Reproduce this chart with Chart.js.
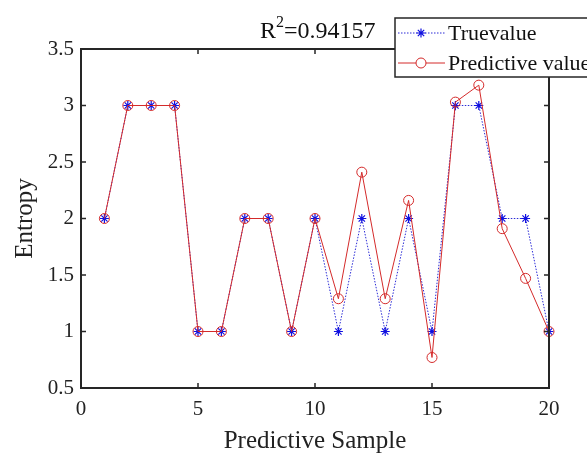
<!DOCTYPE html>
<html><head><meta charset="utf-8">
<script src="https://cdn.jsdelivr.net/npm/chart.js@4/dist/chart.umd.min.js"></script>
<style>html,body{margin:0;padding:0;background:#fff}#wrap{width:587px;height:456px}</style>
</head><body><div id="wrap"><canvas id="c" width="587" height="456"></canvas></div>
<script>
const samples = [1,2,3,4,5,6,7,8,9,10,11,12,13,14,15,16,17,18,19,20];
const trueValues = [2,3,3,3,1,1,2,2,1,2,1,2,1,2,1,3,3,2,2,1];
const predictedValues = [2,3,3,3,1,1,2,2,1,2,1.29,2.41,1.29,2.16,0.77,3.03,3.18,1.91,1.47,1.0];
const xTicks = [0,5,10,15,20];
const yTicks = [0.5,1,1.5,2,2.5,3,3.5];
const titleText = ["R", "2", "=0.94157"];
const seriesNames = ["Truevalue", "Predictive value"];

const FONT = "'Liberation Serif', 'DejaVu Serif', serif";
const toPts = (xs, ys) => xs.map((x, i) => ({x: x, y: ys[i]}));

const boxPlugin = {
  id: 'box',
  afterDraw(chart) {
    const ctx = chart.ctx, a = chart.chartArea;
    const xs = chart.scales.x, ys = chart.scales.y;
    ctx.save();
    ctx.strokeStyle = '#262626';
    ctx.lineWidth = 2;
    ctx.strokeRect(a.left, a.top, a.right - a.left, a.bottom - a.top);
    ctx.lineWidth = 1.5;
    const tl = 5;
    ctx.beginPath();
    xTicks.forEach(v => {
      const p = xs.getPixelForValue(v);
      ctx.moveTo(p, a.bottom); ctx.lineTo(p, a.bottom - tl);
      ctx.moveTo(p, a.top); ctx.lineTo(p, a.top + tl);
    });
    yTicks.forEach(v => {
      const p = ys.getPixelForValue(v);
      ctx.moveTo(a.left, p); ctx.lineTo(a.left + tl, p);
      ctx.moveTo(a.right, p); ctx.lineTo(a.right - tl, p);
    });
    ctx.stroke();

    // title
    ctx.fillStyle = '#111';
    ctx.textBaseline = 'alphabetic';
    const big = "24px " + FONT, small = "16px " + FONT;
    ctx.font = big;
    const w1 = ctx.measureText(titleText[0]).width;
    ctx.font = small;
    const w2 = ctx.measureText(titleText[1]).width;
    ctx.font = big;
    const w3 = ctx.measureText(titleText[2]).width;
    let tx = 260;
    const ty = 38;
    ctx.fillText(titleText[0], tx, ty);
    ctx.font = small;
    ctx.fillText(titleText[1], tx + w1, ty - 11);
    ctx.font = big;
    ctx.fillText(titleText[2], tx + w1 + w2, ty);

    // legend
    const lx = 395, ly = 18, lw = 200, lh = 59;
    ctx.fillStyle = '#fff';
    ctx.fillRect(lx, ly, lw, lh);
    ctx.strokeStyle = '#262626';
    ctx.lineWidth = 1.5;
    ctx.strokeRect(lx, ly, lw, lh);
    chart.data.datasets.forEach((ds, i) => {
      const yy = ly + 15 + i * 30;
      ctx.save();
      ctx.strokeStyle = ds.borderColor;
      ctx.lineWidth = 1;
      ctx.setLineDash(ds.borderDash || []);
      ctx.beginPath(); ctx.moveTo(lx + 3, yy); ctx.lineTo(lx + 50, yy); ctx.stroke();
      ctx.restore();
      ctx.save();
      ctx.strokeStyle = ds.pointBorderColor;
      ctx.fillStyle = '#fff';
      ctx.lineWidth = ds.pointBorderWidth;
      Chart.helpers.drawPoint(ctx, {pointStyle: ds.pointStyle, radius: ds.pointRadius, borderWidth: ds.pointBorderWidth}, lx + 26, yy);
      ctx.restore();
      ctx.fillStyle = '#111';
      ctx.font = "22px " + FONT;
      ctx.textBaseline = 'middle';
      ctx.fillText(ds.label, lx + 53, yy + 1);
    });
    ctx.restore();
  }
};

new Chart(document.getElementById('c'), {
  type: 'line',
  data: {
    datasets: [
      {
        label: seriesNames[0],
        data: toPts(samples, trueValues),
        borderColor: '#2b2bd6',
        backgroundColor: 'transparent',
        pointBorderColor: '#1010e0',
        borderWidth: 1,
        borderDash: [1.5, 1.5],
        pointStyle: 'star',
        pointRadius: 4.5,
        pointBorderWidth: 1.2,
        tension: 0,
        clip: false,
        order: 2
      },
      {
        label: seriesNames[1],
        data: toPts(samples, predictedValues),
        borderColor: '#d42a2a',
        backgroundColor: 'transparent',
        pointBorderColor: '#d42a2a',
        pointBackgroundColor: 'transparent',
        borderWidth: 1,
        pointStyle: 'circle',
        pointRadius: 5,
        pointBorderWidth: 1,
        tension: 0,
        clip: false,
        order: 1
      }
    ]
  },
  options: {
    responsive: false,
    animation: false,
    devicePixelRatio: 1,
    layout: {padding: {top: 49, right: 38, left: 0, bottom: 0}},
    plugins: {legend: {display: false}, tooltip: {enabled: false}, title: {display: false}},
    scales: {
      x: {
        type: 'linear', min: 0, max: 20,
        afterBuildTicks: s => { s.ticks = xTicks.map(v => ({value: v})); },
        afterFit: s => { s.height = 68; },
        grid: {display: false, drawTicks: false},
        border: {display: false},
        ticks: {color: '#222', padding: 9, font: {family: FONT, size: 21}, maxRotation: 0, callback: v => String(v)},
        title: {display: true, text: 'Predictive Sample', color: '#222', font: {family: FONT, size: 25}, padding: {top: 0, bottom: 0}}
      },
      y: {
        type: 'linear', min: 0.5, max: 3.5,
        afterBuildTicks: s => { s.ticks = yTicks.map(v => ({value: v})); },
        afterFit: s => { s.width = 81; },
        grid: {display: false, drawTicks: false},
        border: {display: false},
        ticks: {color: '#222', padding: 7, font: {family: FONT, size: 21}, callback: v => String(v)},
        title: {display: true, text: 'Entropy', color: '#222', font: {family: FONT, size: 25}, padding: {top: 10, bottom: 10}}
      }
    }
  },
  plugins: [boxPlugin]
});
</script>
</body></html>
